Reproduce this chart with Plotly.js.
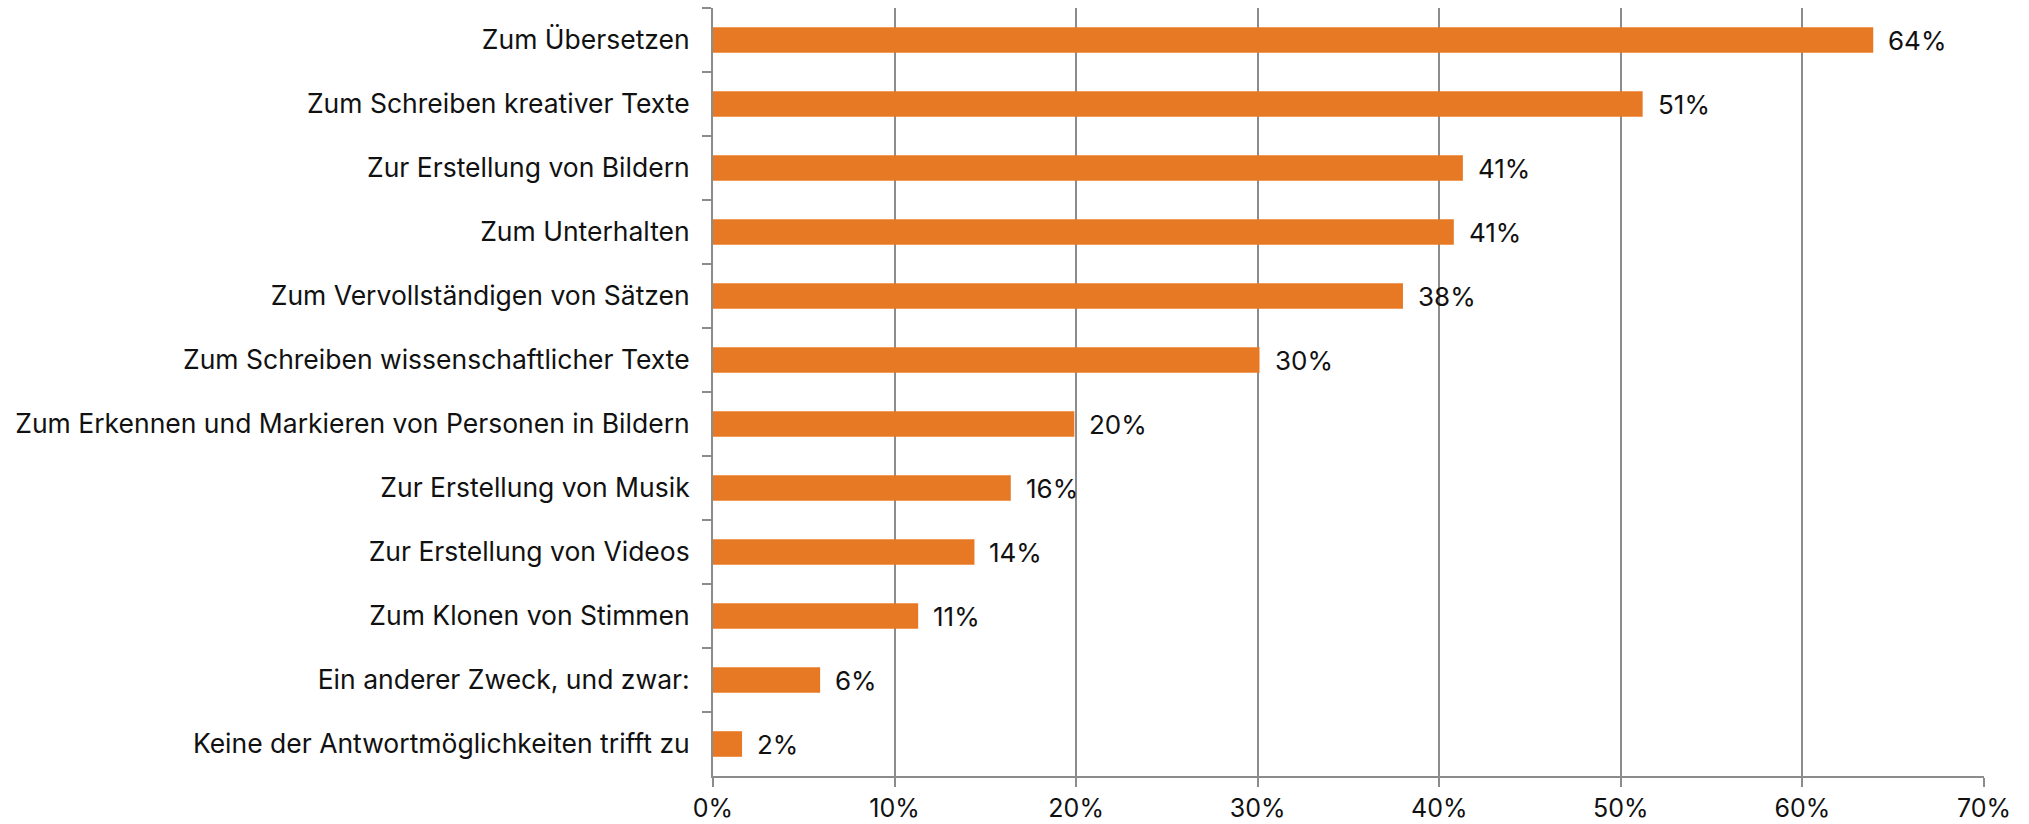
<!DOCTYPE html>
<html>
<head>
<meta charset="utf-8">
<script src="https://cdn.plot.ly/plotly-3.0.1.min.js"></script>
<style>
	html, body { margin: 0; padding: 0; background: #fff; }
	#plot { width: 2029px; height: 824px; }
</style>
</head>
<body>
<div id="plot"></div>
<script>
// answers, top to bottom as in the chart
var purposes = [
	'Zum Übersetzen',
	'Zum Schreiben kreativer Texte',
	'Zur Erstellung von Bildern',
	'Zum Unterhalten',
	'Zum Vervollständigen von Sätzen',
	'Zum Schreiben wissenschaftlicher Texte',
	'Zum Erkennen und Markieren von Personen in Bildern',
	'Zur Erstellung von Musik',
	'Zur Erstellung von Videos',
	'Zum Klonen von Stimmen',
	'Ein anderer Zweck, und zwar:',
	'Keine der Antwortmöglichkeiten trifft zu'
];
// share in percent
var shares = [63.9, 51.2, 41.3, 40.8, 38.0, 30.1, 19.9, 16.4, 14.4, 11.3, 5.9, 1.6];
var shareLabels = ['64%', '51%', '41%', '41%', '38%', '30%', '20%', '16%', '14%', '11%', '6%', '2%'];
var xTicks = [0, 10, 20, 30, 40, 50, 60, 70];
var xTickText = ['0%', '10%', '20%', '30%', '40%', '50%', '60%', '70%'];

var FONT = 'Inter, "Noto Sans", sans-serif';
var GREY = '#8c8c8c';

var data = [{
	type: 'bar',
	orientation: 'h',
	y: purposes,
	x: shares,
	marker: { color: '#e87924', line: { width: 0 } },
	hoverinfo: 'skip'
}];

var annotations = shares.map(function(v, i){
	return {
		x: v,
		y: purposes[i],
		xref: 'x',
		yref: 'y',
		text: shareLabels[i],
		showarrow: false,
		xanchor: 'left',
		yanchor: 'middle',
		xshift: 13,
		font: { family: FONT, size: 26, color: '#111' }
	};
});

var layout = {
	width: 2029,
	height: 824,
	margin: { l: 713, r: 45, t: 8, b: 48 },
	paper_bgcolor: '#fff',
	plot_bgcolor: '#fff',
	showlegend: false,
	bargap: 0.6,
	font: { family: FONT, size: 26, color: '#111' },
	xaxis: {
		range: [0, 70],
		tickmode: 'array',
		tickvals: xTicks,
		ticktext: xTickText,
		showgrid: true,
		gridcolor: GREY,
		gridwidth: 2,
		zeroline: false,
		showline: true,
		linecolor: GREY,
		linewidth: 2,
		ticks: 'outside',
		ticklen: 9,
		tickwidth: 2,
		tickcolor: GREY,
		ticklabelstandoff: 0,
		tickfont: { family: FONT, size: 25, color: '#111' },
		fixedrange: true
	},
	yaxis: {
		type: 'category',
		autorange: 'reversed',
		showgrid: false,
		zeroline: false,
		showline: true,
		linecolor: GREY,
		linewidth: 2,
		ticks: 'outside',
		tickson: 'boundaries',
		ticklen: 9,
		tickwidth: 2,
		tickcolor: GREY,
		ticklabelstandoff: 16,
		tickfont: { family: FONT, size: 26.5, color: '#111' },
		fixedrange: true
	},
	annotations: annotations
};

Plotly.newPlot('plot', data, layout, { displayModeBar: false, staticPlot: true });
</script>
</body>
</html>
